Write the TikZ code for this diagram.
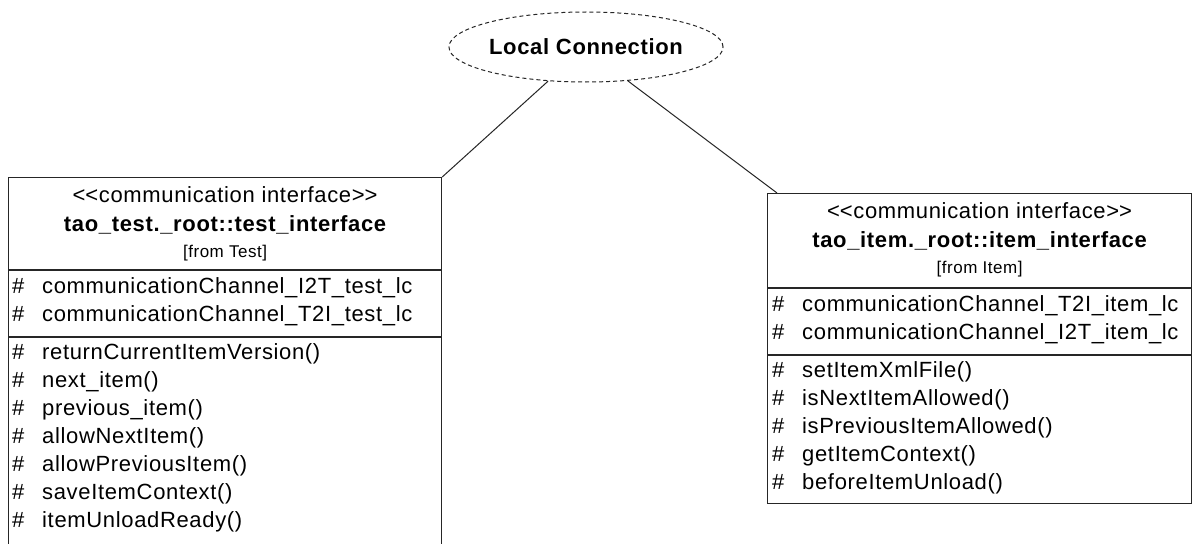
\documentclass[tikz,border=0pt]{standalone}
\usepackage{fontspec}
\setmainfont{Liberation Sans}[LetterSpace=3]
\usetikzlibrary{
  positioning,
  shapes.geometric
}
\tikzset{
  classbox/.style={
    draw=black!85, line width=1.2pt,
    inner sep=0pt, anchor=north west
  },
  sepline/.style={line width=1.2pt, draw=black!85},
  stereo/.style={font=\fontsize{22}{26}\selectfont, inner sep=0pt},
  clsname/.style={font=\fontsize{22}{26}\selectfont\bfseries, inner sep=0pt},
  origin/.style={font=\fontsize{17}{20}\selectfont, inner sep=0pt},
  member/.style={
    font=\fontsize{22}{26}\selectfont, inner sep=0pt, anchor=west,
    text height=16pt, text depth=5pt
  },
  usecase/.style={
    ellipse, draw=black!85, dash pattern=on 4pt off 3pt, line width=1pt,
    minimum width=273pt, minimum height=70pt, inner sep=0pt,
    font=\fontsize{22}{26}\selectfont\bfseries
  },
  link/.style={line width=1pt, draw=black!85}
}
\newcommand{\prot}[1]{\makebox[30pt][l]{\#}#1}
\newcommand{\stereotxt}{<\kern0pt<communication interface>\kern0pt>}

\begin{document}
\begin{tikzpicture}[x=1pt, y=-1pt]
\clip (0,0) rectangle (1198,543);
\fill[white] (0,0) rectangle (1198,543);

\node[usecase] (lc) at (586,47) {Local Connection};

% test side
\node[classbox, minimum width=433pt, minimum height=371pt] (testif) at (8,177) {};
\draw[sepline] (testif.west |- 0,270) -- (testif.east |- 0,270);
\draw[sepline] (testif.west |- 0,337) -- (testif.east |- 0,337);
\node[stereo] (testst) at (testif.north |- 0,195) {\stereotxt};
\node[clsname] (testnm) at (testif.north |- 0,225) {tao\_test.\_root::test\_interface};
\node[origin] (testfr) at (testif.north |- 0,253) {[from Test]};
\node[member] (testa1) at (12,288) {\prot{communicationChannel\_I2T\_test\_lc}};
\node[member] (testa2) at (12,316) {\prot{communicationChannel\_T2I\_test\_lc}};
\node[member] (testo1) at (12,354) {\prot{returnCurrentItemVersion()}};
\node[member] (testo2) at (12,382) {\prot{next\_item()}};
\node[member] (testo3) at (12,410) {\prot{previous\_item()}};
\node[member] (testo4) at (12,438) {\prot{allowNextItem()}};
\node[member] (testo5) at (12,466) {\prot{allowPreviousItem()}};
\node[member] (testo6) at (12,494) {\prot{saveItemContext()}};
\node[member] (testo7) at (12,522) {\prot{itemUnloadReady()}};

% item side
\node[classbox, minimum width=424pt, minimum height=310pt] (itemif) at (767,193) {};
\draw[sepline] (itemif.west |- 0,288) -- (itemif.east |- 0,288);
\draw[sepline] (itemif.west |- 0,355) -- (itemif.east |- 0,355);
\node[stereo] (itemst) at (itemif.north |- 0,211) {\stereotxt};
\node[clsname] (itemnm) at (itemif.north |- 0,241) {tao\_item.\_root::item\_interface};
\node[origin] (itemfr) at (itemif.north |- 0,269) {[from Item]};
\node[member] (itema1) at (772,306) {\prot{communicationChannel\_T2I\_item\_lc}};
\node[member] (itema2) at (772,334) {\prot{communicationChannel\_I2T\_item\_lc}};
\node[member] (itemo1) at (772,372) {\prot{setItemXmlFile()}};
\node[member] (itemo2) at (772,400) {\prot{isNextItemAllowed()}};
\node[member] (itemo3) at (772,428) {\prot{isPreviousItemAllowed()}};
\node[member] (itemo4) at (772,456) {\prot{getItemContext()}};
\node[member] (itemo5) at (772,484) {\prot{beforeItemUnload()}};

% links to the connection
\draw[link] (lc.222) -- (testif.north east);
\draw[link] (lc.321) -- ([xshift=10pt]itemif.north west);

\end{tikzpicture}
\end{document}
